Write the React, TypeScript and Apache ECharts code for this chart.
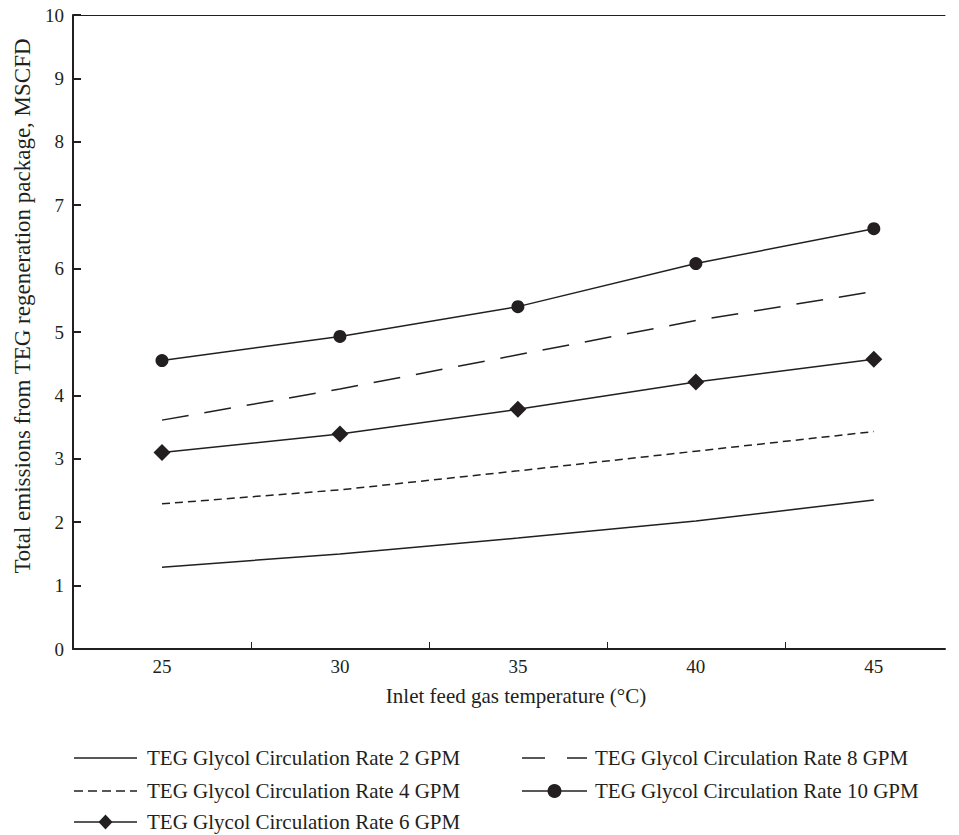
import React, { useEffect, useRef } from "react";
import * as echarts from "echarts";

const temps = [25, 30, 35, 40, 45];
const gpm2 = [1.29, 1.5, 1.75, 2.02, 2.35];
const gpm4 = [2.29, 2.51, 2.81, 3.12, 3.43];
const gpm6 = [3.1, 3.39, 3.78, 4.21, 4.57];
const gpm8 = [3.61, 4.1, 4.64, 5.18, 5.64];
const gpm10 = [4.55, 4.93, 5.4, 6.08, 6.63];
const xTickValues = [27.5, 32.5, 37.5, 42.5];
const seriesNames = [
  "TEG Glycol Circulation Rate 2 GPM",
  "TEG Glycol Circulation Rate 4 GPM",
  "TEG Glycol Circulation Rate 6 GPM",
  "TEG Glycol Circulation Rate 8 GPM",
  "TEG Glycol Circulation Rate 10 GPM",
];
const xTitle = "Inlet feed gas temperature (°C)";
const yTitle = "Total emissions from TEG regeneration package, MSCFD";

const INK = "#231f20";
const FONT = "'Liberation Serif', 'DejaVu Serif', serif";

const pair = (ys: number[]) => temps.map((t, i) => [t, ys[i]]);

// legend layout: [lineStart, lineEnd, textX, rowY, dash, marker]
const legendLayout: [number, number, number, number, number[] | null, string | null][] = [
  [74, 137, 147, 758, null, null],
  [74, 137, 147, 791, [9, 5], null],
  [74, 137, 147, 822, null, "diamond"],
  [522, 587, 595, 758, [23, 22], null],
  [522, 587, 595, 791, null, "circle"],
];

function legendGraphics() {
  const els: any[] = [];
  legendLayout.forEach(([x1, x2, tx, y, dash, marker], i) => {
    els.push({
      type: "line",
      shape: { x1, y1: y, x2, y2: y },
      style: { stroke: INK, lineWidth: 1.6, lineDash: dash || undefined },
      silent: true,
    });
    const cx = (x1 + x2) / 2;
    if (marker === "diamond") {
      els.push({
        type: "polygon",
        shape: { points: [[cx, y - 7.5], [cx + 7, y], [cx, y + 7.5], [cx - 7, y]] },
        style: { fill: INK },
        silent: true,
      });
    } else if (marker === "circle") {
      els.push({ type: "circle", shape: { cx, cy: y, r: 7 }, style: { fill: INK }, silent: true });
    }
    els.push({
      type: "text",
      x: tx,
      y,
      style: {
        text: seriesNames[i],
        fill: INK,
        fontFamily: FONT,
        fontSize: 21,
        align: "left",
        verticalAlign: "middle",
      },
      silent: true,
    });
  });
  return els;
}

export default function App() {
  const ref = useRef<HTMLDivElement>(null);
  useEffect(() => {
    if (!ref.current) return;
    const chart = echarts.init(ref.current, null, { renderer: "svg" });
    chart.setOption({
      animation: false,
      backgroundColor: "#fff",
      textStyle: { fontFamily: FONT, color: INK },
      grid: { left: 73, top: 15, right: 14, bottom: 186, containLabel: false },
      xAxis: [
        {
          type: "value",
          min: 22.5,
          max: 47,
          axisLine: { show: true, lineStyle: { color: INK, width: 2 } },
          axisTick: { show: true, inside: true, length: 7, customValues: xTickValues, lineStyle: { color: INK, width: 1 } },
          axisLabel: { customValues: temps, color: INK, fontFamily: FONT, fontSize: 19, margin: 8 },
          splitLine: { show: false },
        },
        {
          type: "value",
          position: "top",
          min: 22.5,
          max: 47,
          axisLine: { show: true, lineStyle: { color: INK, width: 1 } },
          axisTick: { show: false },
          axisLabel: { show: false },
          splitLine: { show: false },
        },
      ],
      yAxis: {
        type: "value",
        min: 0,
        max: 10,
        interval: 1,
        axisLine: { show: true, lineStyle: { color: INK, width: 2 } },
        axisTick: { show: true, inside: true, length: 8, lineStyle: { color: INK, width: 2 } },
        axisLabel: { color: INK, fontFamily: FONT, fontSize: 19, margin: 9 },
        splitLine: { show: false },
      },
      graphic: [
        {
          type: "text",
          x: 516,
          y: 696,
          style: { text: xTitle, fill: INK, fontFamily: FONT, fontSize: 21, align: "center", verticalAlign: "middle" },
          silent: true,
        },
        {
          type: "text",
          x: 22,
          y: 306,
          rotation: Math.PI / 2,
          style: { text: yTitle, fill: INK, fontFamily: FONT, fontSize: 23, align: "center", verticalAlign: "middle" },
          silent: true,
        },
        ...legendGraphics(),
      ],
      series: [
        {
          name: seriesNames[0],
          type: "line",
          data: pair(gpm2),
          symbol: "none",
          lineStyle: { color: INK, width: 1.5 },
          itemStyle: { color: INK },
        },
        {
          name: seriesNames[1],
          type: "line",
          data: pair(gpm4),
          symbol: "none",
          lineStyle: { color: INK, width: 1.5, type: [8, 5] },
          itemStyle: { color: INK },
        },
        {
          name: seriesNames[2],
          type: "line",
          data: pair(gpm6),
          symbol: "diamond",
          symbolSize: [17, 17],
          lineStyle: { color: INK, width: 1.5 },
          itemStyle: { color: INK },
        },
        {
          name: seriesNames[3],
          type: "line",
          data: pair(gpm8),
          symbol: "none",
          lineStyle: { color: INK, width: 1.5, type: [27, 16] },
          itemStyle: { color: INK },
        },
        {
          name: seriesNames[4],
          type: "line",
          data: pair(gpm10),
          symbol: "circle",
          symbolSize: 13,
          lineStyle: { color: INK, width: 1.5 },
          itemStyle: { color: INK },
        },
      ],
    });
    return () => chart.dispose();
  }, []);
  return <div ref={ref} style={{ width: 959, height: 835, position: "absolute", left: 0, top: 0 }} />;
}
